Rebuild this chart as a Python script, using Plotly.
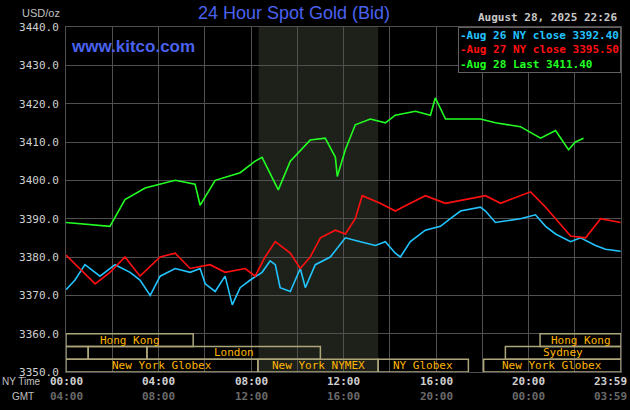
import plotly.graph_objects as go

t_cyan = [0, 0.39, 0.82, 1.47, 2.12, 2.77, 3.2, 3.64, 4.07, 4.72, 5.37, 5.8, 6.02, 6.45, 6.88, 7.19, 7.53, 7.97, 8.48, 8.83, 9.05, 9.26, 9.7, 10.13, 10.35, 10.78, 11.43, 12.08, 12.73, 13.38, 13.81, 14.24, 14.46, 14.89, 15.54, 16.19, 16.62, 17.06, 17.92, 18.14, 18.57, 19.65, 20.3, 20.74, 21.17, 21.82, 22.25, 22.9, 23.33, 23.98]
v_cyan = [3371.5, 3374, 3378, 3375, 3378, 3376, 3374, 3370, 3375, 3377, 3376, 3377, 3373, 3371, 3375, 3367.5, 3372, 3374, 3376, 3379, 3378, 3372, 3371, 3377, 3372, 3378, 3380, 3385, 3384, 3383, 3384, 3381, 3380, 3384, 3387, 3388, 3390, 3392, 3393, 3392, 3389, 3390, 3391, 3388, 3386, 3384, 3385, 3383, 3382, 3381.5]

t_red = [0, 0.61, 1.26, 1.9, 2.55, 3.2, 4.07, 4.72, 5.37, 6.23, 6.88, 7.75, 8.18, 8.61, 9.05, 9.7, 10.13, 10.56, 11.0, 11.65, 12.08, 12.51, 12.81, 13.59, 14.24, 14.89, 15.54, 16.41, 17.27, 18.14, 18.79, 19.65, 20.09, 20.74, 21.82, 22.47, 23.12, 23.98]
v_red = [3380.5, 3377, 3373, 3376, 3380, 3375, 3380, 3381, 3377, 3378, 3376, 3377, 3375, 3380, 3384, 3381, 3377, 3380, 3385, 3387, 3386, 3390, 3396, 3394, 3392, 3394, 3396, 3394, 3395, 3396, 3394, 3396, 3397, 3393, 3385.5, 3385, 3390, 3389]

t_green = [0, 1.9, 2.55, 3.42, 4.72, 5.58, 5.8, 6.45, 7.53, 7.75, 8.18, 8.48, 8.74, 9.18, 9.7, 10.56, 11.21, 11.65, 11.73, 12.08, 12.51, 13.16, 13.81, 14.24, 15.11, 15.76, 15.97, 16.41, 17.92, 18.57, 19.65, 20.52, 21.17, 21.73, 22.03, 22.38]
v_green = [3389, 3388, 3395, 3398, 3400, 3399, 3393.5, 3400, 3402, 3403, 3405, 3406, 3403, 3397.5, 3405, 3410.5, 3411, 3406, 3401, 3408, 3414.5, 3416, 3415, 3417, 3418, 3417, 3421.5, 3416, 3416, 3415, 3414, 3411, 3413, 3408, 3410, 3411]

ny_labels = ["00:00", "04:00", "08:00", "12:00", "16:00", "20:00", "23:59"]
gmt_labels = ["04:00", "08:00", "12:00", "16:00", "20:00", "00:00", "03:59"]
label_pos = [0, 4, 8, 12, 16, 20, 24]

# sessions: (x0, x1, row, label)
sessions = [
    (0, 5.5, 0, "Hong Kong"), (20.5, 24, 0, "Hong Kong"),
    (0, 0.96, 1, ""), (0.96, 3.5, 1, ""), (3.5, 11.0, 1, "London"), (19.0, 24, 1, "Sydney"),
    (0, 8.3, 2, "New York Globex"), (8.3, 13.5, 2, "New York NYMEX"),
    (13.5, 17.4, 2, "NY Globex"), (18.06, 24, 2, "New York Globex"),
]

mono = "DejaVu Sans Mono"
fig = go.Figure()
fig.add_trace(go.Scatter(x=t_cyan, y=v_cyan, mode="lines", line=dict(color="#22C4FF", width=1.6)))
fig.add_trace(go.Scatter(x=t_red, y=v_red, mode="lines", line=dict(color="#FF1010", width=1.6)))
fig.add_trace(go.Scatter(x=t_green, y=v_green, mode="lines", line=dict(color="#22FF22", width=1.6)))

shapes = [dict(type="rect", xref="x", yref="y", x0=8.33, x1=13.5, y0=3350, y1=3440,
               fillcolor="#1E2119", line=dict(width=0), layer="below")]
row_h = 10 / 3
ann = []
for x0, x1, r, lab in sessions:
    y1 = 3360 - r * row_h
    y0 = y1 - row_h
    shapes.append(dict(type="rect", xref="x", yref="y", x0=x0, x1=x1, y0=y0, y1=y1,
                       line=dict(color="#ADA67A", width=1.5), fillcolor="rgba(0,0,0,0)"))
    if lab:
        ann.append(dict(x=(x0 + x1) / 2, y=(y0 + y1) / 2, xref="x", yref="y", text=lab, showarrow=False,
                        font=dict(family=mono, size=11, color="#FFB400")))

for p, a, b in zip(label_pos, ny_labels, gmt_labels):
    xa = "right" if p == 24 else "center"
    ann.append(dict(x=p, y=0, xref="x", yref="paper", yanchor="top", xanchor=xa, xshift=(8 if p == 24 else 0),
                    yshift=-1, text="<b>%s</b>" % a,
                    showarrow=False, font=dict(family=mono, size=11, color="#D0D0D0")))
    ann.append(dict(x=p, y=0, xref="x", yref="paper", yanchor="top", xanchor=xa, xshift=(8 if p == 24 else 0),
                    yshift=-16, text="<b>%s</b>" % b,
                    showarrow=False, font=dict(family=mono, size=11, color="#6A6A6A")))
ann += [
    dict(x=0, y=0, xref="paper", yref="paper", xanchor="left", yanchor="top", xshift=-66, yshift=-2,
         text="NY Time", showarrow=False, font=dict(family="Liberation Sans Narrow, Arial", size=10, color="#C0C0C0")),
    dict(x=0, y=0, xref="paper", yref="paper", xanchor="left", yanchor="top", xshift=-56, yshift=-17,
         text="GMT", showarrow=False, font=dict(family="Liberation Sans Narrow, Arial", size=10, color="#C0C0C0")),
    dict(x=0, y=1, xref="paper", yref="paper", xanchor="right", yanchor="bottom", xshift=-4, yshift=6,
         text="USD/oz", showarrow=False, font=dict(family="Liberation Sans Narrow, Arial", size=11, color="#C0C0C0")),
    dict(x=0.41, y=1, xref="paper", yref="paper", yanchor="bottom", yshift=2,
         text="24 Hour Spot Gold (Bid)", showarrow=False,
         font=dict(family="Liberation Sans, Arial", size=18, color="#4A62F0")),
    dict(x=0.005, y=1, xref="paper", yref="paper", xanchor="left", yanchor="top", yshift=-8,
         text="<b>www.kitco.com</b>", showarrow=False,
         font=dict(family="Liberation Sans, Arial", size=17, color="#4A62F0")),
    dict(x=1, y=1, xref="paper", yref="paper", xanchor="right", yanchor="bottom", xshift=-2, yshift=1,
         text="<b>August 28, 2025 22:26</b>", showarrow=False, font=dict(family=mono, size=11, color="#C8C8C8")),
    dict(x=1, y=1, xref="paper", yref="paper", xanchor="right", yanchor="top", align="left",
         text="<b><span style='color:#22C4FF'>-Aug 26 NY close 3392.40</span><br>"
              "<span style='color:#FF1010'>-Aug 27 NY close 3395.50</span><br>"
              "<span style='color:#22FF22'>-Aug 28 Last 3411.40</span></b>",
         showarrow=False, bgcolor="#000000", bordercolor="#606060", borderwidth=1, borderpad=1,
         font=dict(family=mono, size=11)),
]

fig.update_layout(
    width=630, height=410, margin=dict(l=66, r=9, t=27, b=38),
    paper_bgcolor="#000000", plot_bgcolor="#000000", showlegend=False,
    shapes=shapes, annotations=ann,
    xaxis=dict(range=[0, 24], tickvals=list(range(0, 25, 2)), showticklabels=False,
               showgrid=True, gridcolor="#505050", gridwidth=1, zeroline=False,
               showline=True, linecolor="#505050", mirror=True),
    yaxis=dict(range=[3350, 3440], tickvals=list(range(3350, 3441, 10)),
               ticktext=["%.1f" % v for v in range(3350, 3441, 10)],
               showgrid=True, gridcolor="#505050", zeroline=False, showline=True, linecolor="#505050", mirror=True,
               tickfont=dict(family=mono, size=11, color="#D0D0D0"), ticks="", ticklabelstandoff=4),
)
fig.write_html("out.html", config={"displayModeBar": False},
               post_script="document.body.style.margin='0';document.body.style.background='#000';")
